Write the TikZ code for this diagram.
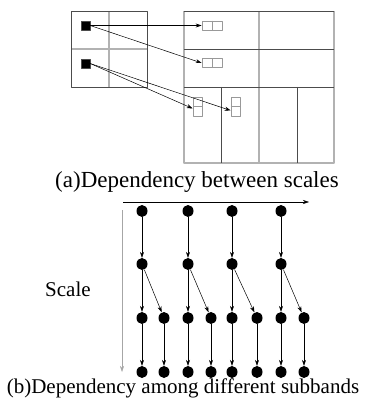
\documentclass[tikz,border=0pt]{standalone}
\usepackage{fontspec}
\setmainfont{Liberation Serif}
\usetikzlibrary{shapes.geometric,arrows.meta}
\tikzset{
  gridlight/.style={draw=gray!60,line width=1.1pt},
  griddark/.style={draw=black!70,line width=0.6pt},
  coef/.style={fill=black,draw=black!70,inner sep=0pt,minimum size=9pt},
  cell/.style={draw=gray!80,line width=0.6pt,inner sep=0pt},
  dot/.style={ellipse,fill=black,inner sep=0pt,minimum width=11pt,minimum height=12pt},
  dep/.style={-{Stealth[length=6pt,width=4pt]},line width=0.5pt},
  caption/.style={font=\fontsize{21}{24}\selectfont,anchor=base,inner sep=0pt}
}
\begin{document}
\begin{tikzpicture}[x=1pt,y=-1pt,line join=round]
\useasboundingbox (0,0) rectangle (367,401);
% (a) parent band
\draw[gridlight] (109,11)--(109,87) (71,49)--(147,49);
\draw[griddark] (71,11) rectangle (147,87);
% (a) child bands
\draw[gridlight] (184,11)--(184,163)--(334,163)--(334,11) (259,11)--(259,163);
\draw[griddark] (184,11)--(334,11) (184,49)--(334,49) (184,87)--(334,87) (221,87)--(221,163) (297,87)--(297,163);
\node[coef] (c1) at (85.5,25.5) {};
\node[coef] (c2) at (85.5,63.5) {};
\node[cell,minimum width=20pt,minimum height=9pt] (h1) at (212,25.5) {};
\node[cell,minimum width=20pt,minimum height=9pt] (h2) at (212,63) {};
\node[cell,minimum width=9pt,minimum height=19pt] (v1) at (197.5,106.5) {};
\node[cell,minimum width=9pt,minimum height=19pt] (v2) at (235.5,106.5) {};
\draw[cell] (h1.north)--(h1.south) (h2.north)--(h2.south) (v1.west)--(v1.east) (v2.west)--(v2.east);
\draw[dep] (c1.east)--(h1.west);
\draw[dep] (c1.east)--(h2.west);
\draw[dep] (c2.east)--([yshift=-2pt]v1.west);
\draw[dep] (c2.east)--([yshift=-4pt]v2.west);
\node[caption,font=\fontsize{23}{26}\selectfont] (capa) at (197,187) {(a)Dependency between scales};
% (b) trees
\coordinate (hx0) at (123,202);
\coordinate (hx1) at (309,202);
\coordinate (vy0) at (122,210);
\coordinate (vy1) at (122,372);
\draw[dep] (hx0)--(hx1);
\draw[dep,draw=gray!70] (vy0)--(vy1);
\foreach \a/\b [count=\i] in {142/164,188/211,232/257,281/304}{
  \node[dot] (t\i) at (\a,211) {};
  \node[dot] (m\i) at (\a,264) {};
  \node[dot] (p\i) at (\a,318) {};
  \node[dot] (q\i) at (\b,318) {};
  \node[dot] (r\i) at (\a,372) {};
  \node[dot] (s\i) at (\b,372) {};
  \draw[dep] (t\i)--(m\i);
  \draw[dep] (m\i)--(p\i);
  \draw[dep] (m\i)--(q\i);
  \draw[dep] (p\i)--(r\i);
  \draw[dep] (q\i)--(s\i);
}
\node[caption,anchor=base west] (scale) at (45,296) {Scale};
\node[caption] (capb) at (183,393) {(b)Dependency among different subbands};
\end{tikzpicture}
\end{document}
